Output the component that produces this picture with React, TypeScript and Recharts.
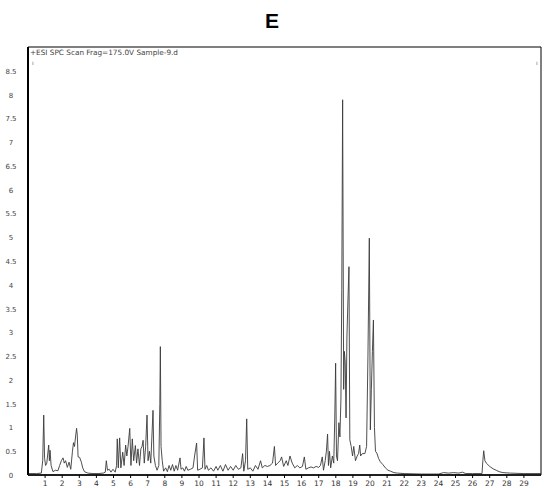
import React from 'react';
import { LineChart, Line, XAxis, YAxis, ReferenceArea } from 'recharts';

type Pt = [number, number];

// retention time (min), intensity
const startTrace: Pt[] = [
  [0, 0.03], [0.5, 0.03], [0.78, 0.04], [0.86, 0.3], [0.92, 1.26], [0.97, 0.35], [1.03, 0.2],
  [1.1, 0.25], [1.21, 0.63], [1.25, 0.3], [1.29, 0.52], [1.35, 0.2], [1.46, 0.07], [1.6, 0.1],
  [1.75, 0.09], [1.85, 0.2], [1.95, 0.3], [2.05, 0.36], [2.12, 0.25], [2.2, 0.3], [2.3, 0.16],
  [2.4, 0.27], [2.5, 0.12], [2.6, 0.5], [2.66, 0.68], [2.72, 0.6], [2.78, 0.8], [2.84, 0.98],
  [2.88, 0.85], [2.93, 0.38], [3.02, 0.37], [3.12, 0.27], [3.2, 0.15], [3.3, 0.07], [3.5, 0.04],
];

const earlyPeaks: Pt[] = [
  [3.8, 0.03], [4.1, 0.03], [4.4, 0.04], [4.52, 0.06], [4.58, 0.3], [4.65, 0.1], [4.75, 0.12],
  [4.85, 0.06], [4.97, 0.12], [5.1, 0.06], [5.18, 0.2], [5.22, 0.76], [5.28, 0.15], [5.36, 0.78],
  [5.43, 0.15], [5.54, 0.48], [5.62, 0.2], [5.71, 0.63], [5.78, 0.4], [5.85, 0.6], [5.95, 0.98],
  [6.02, 0.2], [6.1, 0.76], [6.18, 0.3], [6.28, 0.62], [6.35, 0.25], [6.43, 0.55], [6.52, 0.2],
  [6.6, 0.55], [6.67, 0.6], [6.73, 0.73], [6.8, 0.25], [6.88, 0.6], [6.96, 1.26], [7.02, 0.3],
  [7.1, 0.5], [7.18, 0.25], [7.31, 1.36], [7.36, 0.4], [7.45, 0.2], [7.55, 0.1], [7.65, 0.2],
  [7.71, 1.5], [7.74, 2.7], [7.78, 0.6], [7.85, 0.3], [7.93, 0.08], [8.05, 0.15], [8.15, 0.07],
  [8.25, 0.2],
];

const midTrace: Pt[] = [
  [8.35, 0.1], [8.45, 0.22], [8.55, 0.08], [8.65, 0.2], [8.75, 0.1], [8.89, 0.36], [8.95, 0.12],
  [9.05, 0.15], [9.15, 0.08], [9.25, 0.18], [9.35, 0.1], [9.5, 0.12], [9.65, 0.15], [9.75, 0.42],
  [9.86, 0.67], [9.92, 0.1], [10.05, 0.12], [10.2, 0.15], [10.29, 0.78], [10.35, 0.12],
  [10.45, 0.2], [10.55, 0.1], [10.7, 0.15], [10.85, 0.08], [11.0, 0.18], [11.1, 0.1],
  [11.25, 0.2], [11.4, 0.08], [11.55, 0.22], [11.7, 0.1], [11.85, 0.18], [12.0, 0.1],
  [12.15, 0.2], [12.3, 0.12], [12.45, 0.15], [12.55, 0.45], [12.62, 0.08], [12.72, 0.3],
  [12.79, 1.18], [12.85, 0.12], [13.0, 0.15], [13.15, 0.08], [13.3, 0.2], [13.45, 0.12],
  [13.6, 0.3], [13.7, 0.15], [13.85, 0.2], [14.0, 0.18], [14.15, 0.2], [14.3, 0.25],
  [14.41, 0.6], [14.48, 0.2], [14.6, 0.25], [14.75, 0.3], [14.83, 0.38], [14.95, 0.18],
  [15.1, 0.3], [15.2, 0.2], [15.32, 0.4], [15.45, 0.25], [15.6, 0.15], [15.75, 0.2],
  [15.9, 0.15], [16.05, 0.18], [16.16, 0.38], [16.25, 0.12], [16.4, 0.15], [16.55, 0.17],
  [16.7, 0.15], [16.85, 0.18], [17.0, 0.16], [17.1, 0.2], [17.21, 0.38], [17.28, 0.1],
];

const mainPeaks: Pt[] = [
  [17.38, 0.3], [17.45, 0.5], [17.52, 0.86], [17.57, 0.2], [17.63, 0.5], [17.7, 0.15],
  [17.8, 0.4], [17.88, 0.25], [17.94, 1.2], [17.99, 2.35], [18.04, 0.4], [18.1, 0.3],
  [18.18, 1.1], [18.24, 0.8], [18.3, 1.6], [18.35, 3.9], [18.4, 7.89], [18.46, 1.8],
  [18.5, 2.6], [18.55, 2.38], [18.6, 1.2], [18.65, 2.9], [18.72, 3.8], [18.77, 4.38],
  [18.82, 0.74], [18.9, 0.6], [18.98, 0.4], [19.05, 0.6], [19.15, 0.3], [19.25, 0.4],
  [19.33, 0.45], [19.4, 0.63], [19.45, 0.4], [19.55, 0.45], [19.7, 0.45], [19.8, 0.6],
  [19.88, 2.5], [19.96, 4.98], [20.02, 0.95], [20.08, 1.8], [20.14, 2.6], [20.2, 3.26],
  [20.26, 1.0], [20.32, 0.5], [20.4, 0.46], [20.5, 0.35], [20.6, 0.28], [20.75, 0.22],
  [20.9, 0.15],
];

const tailTrace: Pt[] = [
  [21.05, 0.1], [21.2, 0.08], [21.4, 0.05], [21.6, 0.04], [22, 0.03], [23, 0.02], [24, 0.02],
  [24.3, 0.05], [24.6, 0.04], [24.9, 0.05], [25.2, 0.04], [25.4, 0.06], [25.6, 0.03],
  [26, 0.03], [26.55, 0.03], [26.6, 0.3], [26.65, 0.51], [26.72, 0.3], [26.8, 0.25],
  [27.0, 0.18], [27.2, 0.13], [27.38, 0.1], [27.55, 0.07], [27.77, 0.05], [28.2, 0.04],
  [29, 0.03], [30, 0.03],
];

const xTicks = [1, 2, 3, 4, 5, 6, 7, 8, 9, 10, 11, 12, 13, 14, 15, 16, 17, 18, 19, 20, 21, 22, 23, 24, 25, 26, 27, 28, 29];
const yTicks = [0, 0.5, 1, 1.5, 2, 2.5, 3, 3.5, 4, 4.5, 5, 5.5, 6, 6.5, 7, 7.5, 8, 8.5];

const trace = [...startTrace, ...earlyPeaks, ...midTrace, ...mainPeaks, ...tailTrace].map(([t, v]) => ({ t, v }));

const font = '"DejaVu Sans", sans-serif';

const YTick = ({ y, payload }: any) => (
  <text x={11} y={y} dy={3} textAnchor="middle" fontSize={7} fontFamily={font} fill="#444">
    {payload.value}
  </text>
);

const XTick = ({ x, payload }: any) => (
  <text x={x} y={486} textAnchor="middle" fontSize={7.5} fontFamily={font} fill="#333">
    {payload.value}
  </text>
);

export default function App() {
  return (
    <div style={{ position: 'absolute', left: 0, top: 0, width: 544, height: 488, background: '#fff' }}>
      <div
        style={{
          position: 'absolute', top: 9, left: 0, width: 544, textAlign: 'center',
          fontFamily: '"Liberation Sans", Arial, sans-serif', fontWeight: 'bold', fontSize: 21,
        }}
      >
        E
      </div>
      <div style={{ position: 'absolute', top: 48, left: 30, fontFamily: font, fontSize: 7.3, color: '#444' }}>
        +ESI SPC Scan Frag=175.0V Sample-9.d
      </div>
      <div style={{ position: 'absolute', top: 59, left: 32, fontFamily: font, fontSize: 6, color: '#666' }}>ı</div>
      <div style={{ position: 'absolute', top: 59, left: 536, fontFamily: font, fontSize: 6, color: '#666' }}>ı</div>
      <LineChart width={544} height={488} data={trace} margin={{ top: 47, right: 3, bottom: 0, left: 0 }}>
        <XAxis
          dataKey="t"
          type="number"
          domain={[0, 30]}
          ticks={xTicks}
          interval={0}
          height={13}
          tick={<XTick />}
          tickSize={3}
          tickLine={{ stroke: '#000' }}
          axisLine={{ stroke: '#000', strokeWidth: 1.5 }}
        />
        <YAxis
          type="number"
          domain={[0, 9]}
          ticks={yTicks}
          interval={0}
          width={28}
          tick={<YTick />}
          tickLine={false}
          axisLine={{ stroke: '#000', strokeWidth: 2 }}
        />
        <ReferenceArea x1={0} x2={30} y1={0} y2={9} fill="none" stroke="#000" strokeWidth={1} />
        <Line
          type="linear"
          dataKey="v"
          stroke="#3a3a3a"
          strokeWidth={0.9}
          dot={false}
          isAnimationActive={false}
        />
      </LineChart>
    </div>
  );
}
